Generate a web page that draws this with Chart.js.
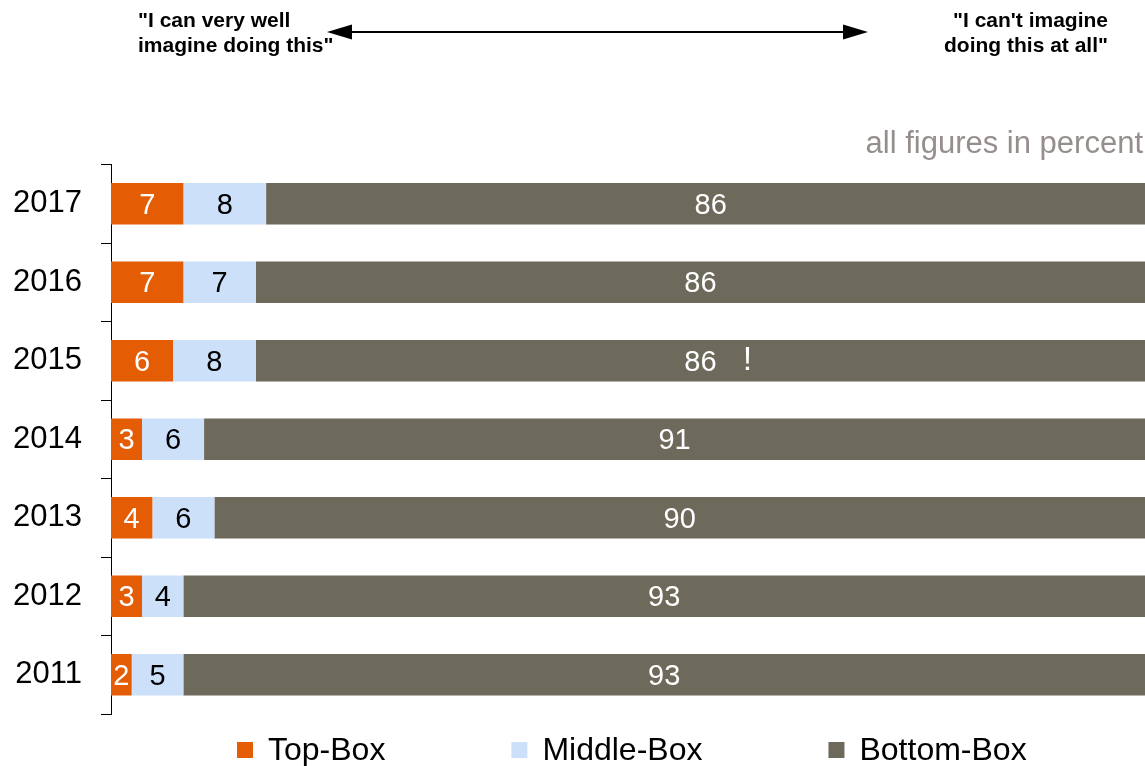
<!DOCTYPE html>
<html>
<head>
<meta charset="utf-8">
<script src="https://cdn.jsdelivr.net/npm/chart.js@4/dist/chart.umd.min.js"></script>
<style>
  html, body { margin: 0; padding: 0; background: #ffffff; }
  #wrap { width: 1145px; height: 766px; position: relative; }
</style>
</head>
<body>
<div id="wrap"><canvas id="chart" width="1145" height="766"></canvas></div>
<script>
// Survey years, top to bottom
const years = ['2017', '2016', '2015', '2014', '2013', '2012', '2011'];

// Answer shares per year (percent)
const topBox    = [7, 7, 6, 3, 4, 3, 2];
const middleBox = [8, 7, 8, 6, 6, 4, 5];
const bottomBox = [86, 86, 86, 91, 90, 93, 93];

const seriesNames = ['Top-Box', 'Middle-Box', 'Bottom-Box'];
const headerLeft  = ['"I can very well', 'imagine doing this"'];
const headerRight = ['"I can\'t imagine', 'doing this at all"'];
const unitNote = 'all figures in percent';
const flaggedYear = '2015';
const flagMark = '!';

const FONT = '"Liberation Sans", Arial, Helvetica, sans-serif';
const colors = ['#E45C04', '#CCE0FA', '#6D695B'];
const labelColors = ['#ffffff', '#000000', '#ffffff'];

// Value labels centred inside each bar segment
const segmentLabels = {
  id: 'segmentLabels',
  afterDatasetsDraw(chart) {
    const ctx = chart.ctx;
    ctx.save();
    ctx.textAlign = 'center';
    ctx.textBaseline = 'middle';
    chart.data.datasets.forEach((ds, di) => {
      const meta = chart.getDatasetMeta(di);
      meta.data.forEach((bar, i) => {
        const p = bar.getProps(['x', 'y', 'base'], true);
        const cx = (p.x + p.base) / 2;
        ctx.fillStyle = labelColors[di];
        ctx.font = '29px ' + FONT;
        ctx.fillText(String(ds.data[i]), cx, p.y + 2);
        if (di === 2 && chart.data.labels[i] === flaggedYear) {
          ctx.font = '34px ' + FONT;
          ctx.fillText(flagMark, cx + 47, p.y);
        }
      });
    });
    ctx.restore();
  }
};

// Scale header, unit note and legend
const decorations = {
  id: 'decorations',
  afterDraw(chart) {
    const ctx = chart.ctx;
    ctx.save();

    // header captions
    ctx.fillStyle = '#000';
    ctx.font = 'bold 21px ' + FONT;
    ctx.textBaseline = 'alphabetic';
    ctx.textAlign = 'left';
    ctx.fillText(headerLeft[0], 138, 27);
    ctx.fillText(headerLeft[1], 138, 52);
    ctx.textAlign = 'right';
    ctx.fillText(headerRight[0], 1108, 27);
    ctx.fillText(headerRight[1], 1108, 52);

    // double-headed arrow
    const ay = 32, x1 = 327, x2 = 868, head = 25, half = 7.5;
    ctx.strokeStyle = '#000';
    ctx.lineWidth = 2;
    ctx.beginPath();
    ctx.moveTo(x1 + head - 2, ay);
    ctx.lineTo(x2 - head + 2, ay);
    ctx.stroke();
    ctx.beginPath();
    ctx.moveTo(x1, ay);
    ctx.lineTo(x1 + head, ay - half);
    ctx.lineTo(x1 + head, ay + half);
    ctx.closePath();
    ctx.fill();
    ctx.beginPath();
    ctx.moveTo(x2, ay);
    ctx.lineTo(x2 - head, ay - half);
    ctx.lineTo(x2 - head, ay + half);
    ctx.closePath();
    ctx.fill();

    // unit note
    ctx.font = '31px ' + FONT;
    ctx.fillStyle = '#968E8C';
    ctx.textAlign = 'right';
    ctx.fillText(unitNote, 1143, 153);

    // legend row
    ctx.font = '32px ' + FONT;
    ctx.textAlign = 'left';
    let x = 237;
    const box = 16, boxTop = 742, baseLine = 760;
    seriesNames.forEach((name, i) => {
      ctx.fillStyle = colors[i];
      ctx.fillRect(x, boxTop, box, box);
      ctx.fillStyle = '#000';
      const tx = x + box + 15;
      ctx.fillText(name, tx, baseLine);
      x = tx + ctx.measureText(name).width + 126;
    });

    ctx.restore();
  }
};

const series = [topBox, middleBox, bottomBox];

new Chart(document.getElementById('chart'), {
  type: 'bar',
  data: {
    labels: years,
    datasets: series.map((values, i) => ({
      label: seriesNames[i],
      data: values,
      backgroundColor: colors[i],
      borderWidth: 0,
      barPercentage: 0.53,
      categoryPercentage: 1.0
    }))
  },
  options: {
    indexAxis: 'y',
    responsive: false,
    animation: false,
    layout: { padding: { top: 164.5, bottom: 52, left: 0, right: 0 } },
    scales: {
      x: {
        stacked: true,
        min: 0,
        max: 100,
        display: false
      },
      y: {
        stacked: true,
        afterFit(scale) { scale.width = 111; },
        border: { display: true, color: '#000', width: 1 },
        grid: {
          offset: true,
          drawOnChartArea: false,
          drawTicks: true,
          tickLength: 10,
          color: '#000',
          lineWidth: 1
        },
        ticks: {
          color: '#000',
          padding: 19,
          font: { family: FONT, size: 31, lineHeight: 1.0 }
        }
      }
    },
    plugins: {
      legend: { display: false },
      tooltip: { enabled: false }
    }
  },
  plugins: [segmentLabels, decorations]
});
</script>
</body>
</html>
